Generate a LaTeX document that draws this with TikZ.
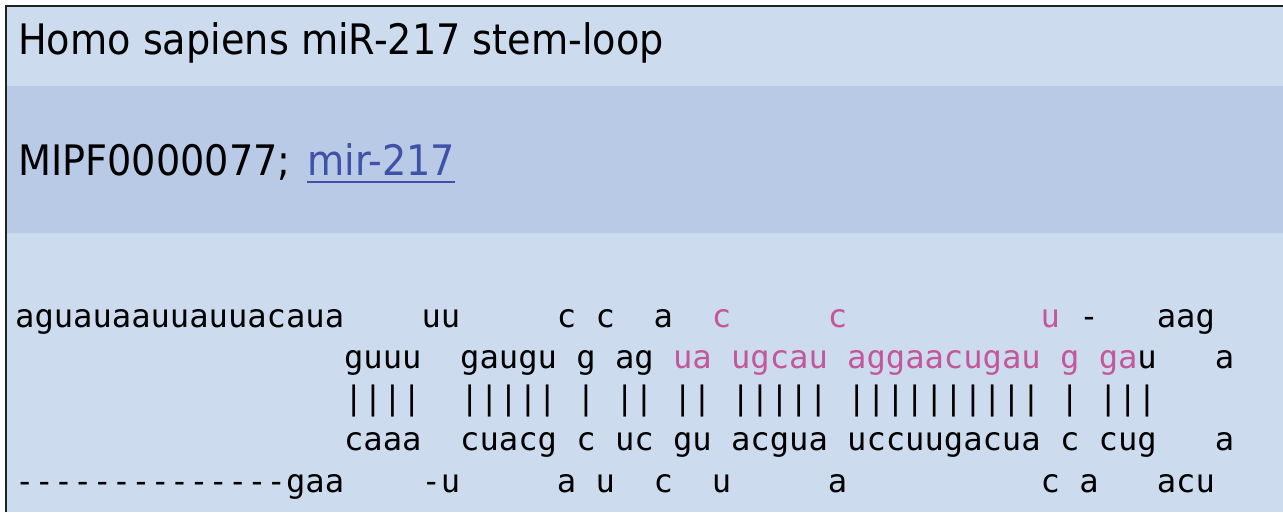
\documentclass[tikz,border=0pt]{standalone}
\usepackage{fontspec}
\setmainfont{DejaVu Sans}[FakeStretch=0.91]
\setmonofont{DejaVu Sans Mono}
\definecolor{bglight}{HTML}{CCDCEE}
\definecolor{bgdark}{HTML}{B9CAE6}
\definecolor{frame}{HTML}{222222}
\definecolor{linkblue}{HTML}{4051A8}
\definecolor{mature}{HTML}{C4569C}
\newcommand{\mat}[1]{\textcolor{mature}{#1}}
\begin{document}
\begin{tikzpicture}
	[x=1pt,y=-1pt,
	head/.style={anchor=base west,inner sep=0pt,font=\fontsize{42}{50}\selectfont},
	seq/.style={anchor=base west,inner sep=0pt,font=\ttfamily\fontsize{32.14}{40}\selectfont}]
	\useasboundingbox (0,0) rectangle (1283,512);
	\fill[bglight] (7,7) rectangle (1283,512);
	\fill[bgdark] (7,86) rectangle (1283,233);
	\draw[frame,line width=2.4pt] (6,512) -- (6,6) -- (1283,6);
	\node[head,name=title] at (18,54) {Homo sapiens miR-217 stem-loop};
	\node[head,name=fam] at (18,175) {MIPF0000077;};
	\node[head,name=link,text=linkblue] at (307,175) {mir-217};
	\draw[linkblue,line width=2pt] ([yshift=-7pt]link.base west) -- ([yshift=-7pt]link.base east);
	\node[seq,name=rowa] at (15,327) {aguauaauuauuacaua~~~~uu~~~~~c~c~~a~~\mat{c}~~~~~\mat{c}~~~~~~~~~~\mat{u}~-~~~aag};
	\node[seq,name=rowb] at (15,368) {~~~~~~~~~~~~~~~~~guuu~~gaugu~g~ag~\mat{ua~ugcau~aggaacugau~g~ga}u~~~a};
	\node[seq,name=rowc] at (15,409) {~~~~~~~~~~~~~~~~~||||~~|||||~|~||~||~|||||~||||||||||~|~|||};
	\node[seq,name=rowd] at (15,450) {~~~~~~~~~~~~~~~~~caaa~~cuacg~c~uc~gu~acgua~uccuugacua~c~cug~~~a};
	\node[seq,name=rowe] at (15,492) {--------------gaa~~~~-u~~~~~a~u~~c~~u~~~~~a~~~~~~~~~~c~a~~~acu};
\end{tikzpicture}
\end{document}
